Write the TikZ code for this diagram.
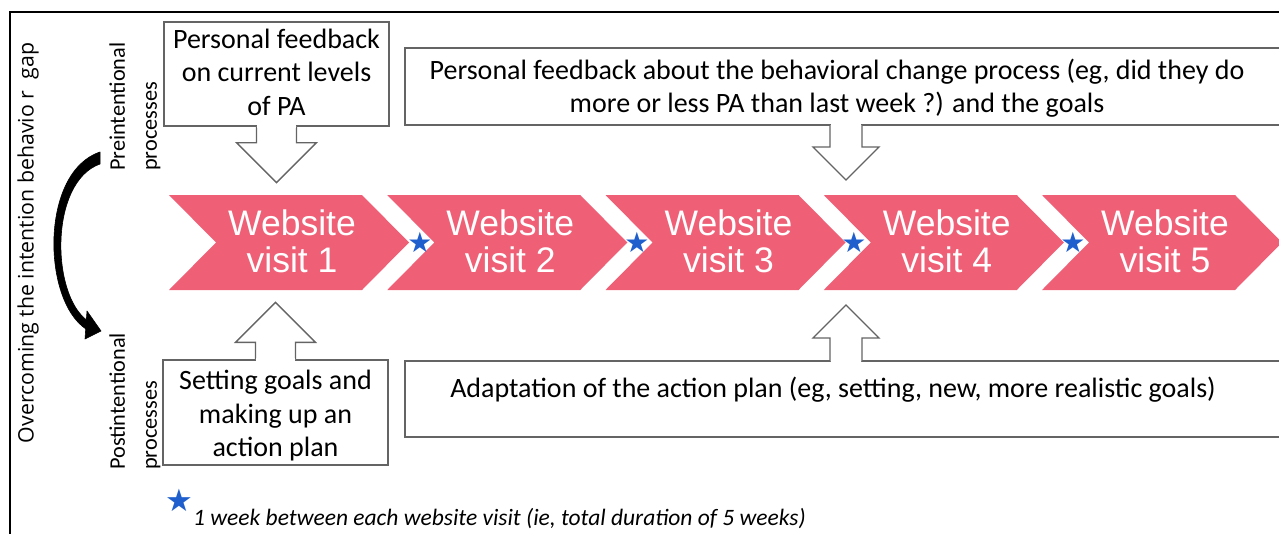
\documentclass[tikz,border=0pt]{standalone}
\usepackage{fontspec}
\setmainfont{Carlito}
\newfontfamily\arialf{Liberation Sans}
\newfontfamily\opens{Open Sans}
\newfontfamily\djv{DejaVu Sans}
\usetikzlibrary{arrows.meta,calc}
\definecolor{chev}{RGB}{239,95,118}
\definecolor{starblue}{RGB}{30,95,205}
\definecolor{boxgray}{RGB}{100,100,100}
\begin{document}
\begin{tikzpicture}[x=1pt,y=-1pt,
  box/.style={draw=boxgray,line width=1.3pt,fill=white,inner sep=0pt},
  blockarrow/.style={draw=boxgray,line width=1.3pt,fill=white,line join=miter},
  chevshape/.style={fill=chev,draw=none},
  chevtext/.style={font=\arialf\fontsize{35.5}{37}\selectfont,text=white,align=center,inner sep=0pt},
  boxtext/.style={font=\fontsize{28}{33.5}\selectfont,align=center,inner sep=0pt},
  sidelabel/.style={font=\fontsize{22.3}{32}\selectfont,rotate=90,anchor=west,align=left,inner sep=0pt},
  starnode/.style={font=\djv\fontsize{28}{28}\selectfont,text=starblue,inner sep=0pt},
  bendarrow/.style={fill=black,draw=black,line width=0.6pt,line join=round}]
\useasboundingbox (0,0) rectangle (1279,533);
% frame
\draw[line width=2.5pt] (10,560) -- (10,12) -- (1300,12);
% left title
\node[rotate=90,font=\opens\fontsize{21.3}{26}\selectfont,inner sep=0pt] (ov) at (28,243) {Overcoming the intention behavio r\ \ gap};
% side labels
\node[sidelabel] (pre) at (135,171) {Preintentional\\processes};
\node[sidelabel] (post) at (135,470) {Postintentional\\processes};
% curved tapered arrow (pre -> post)
\coordinate (ca1) at (100,158);
\coordinate (ca2) at (101,331);
\fill[bendarrow] ($(ca1)+(0,-6)$) .. controls (40,172) and (42,300) .. (86,329)
  -- (88,321) .. controls (51,296) and (49,182) .. ($(ca1)+(0,6)$) -- cycle;
\fill[bendarrow] (87,311) -- (ca2) -- (85,339) -- cycle;
% top-left box + arrow
\node[box,minimum width=225pt,minimum height=104pt] (fb1box) at (276.5,74) {};
\node[boxtext] (fb1) at (276.5,72) {Personal feedback\\on current levels\\of PA};
\draw[blockarrow] (fb1box.south) ++(-20,0) -- ++(0,16) -- ++(-20,0) -- ++(40,40) -- ++(40,-40) -- ++(-20,0) -- ++(0,-16);
\fill[white] ($(fb1box.south)+(-19.3,-2)$) rectangle ($(fb1box.south)+(19.3,1)$);
% top-right box + arrow
\node[box,minimum width=885pt,minimum height=77pt] (fb2box) at (847.5,86.5) {};
\node[boxtext] (fb2) at (837,88) {Personal feedback about the behavioral change process (eg, did they do\\more or less PA than last week ?) and the goals};
\coordinate (a2) at (846,125);
\draw[blockarrow] (a2) ++(-16,0) -- ++(0,22) -- ++(-17,0) -- ++(33,33) -- ++(33,-33) -- ++(-17,0) -- ++(0,-22);
\fill[white] ($(a2)+(-15.3,-2)$) rectangle ($(a2)+(15.3,1)$);
% chevrons
\foreach \i in {1,...,5}{
  \pgfmathsetmacro\xo{169+218.25*(\i-1)}
  \fill[chevshape] (\xo,195) -- (\xo+193,195) -- (\xo+240,242.5) -- (\xo+193,290) -- (\xo,290) -- (\xo+47,242.5) -- cycle;
  \node[chevtext] (v\i) at (\xo+123,241) {Website\\visit \i};
}
% stars
\node[starnode] (s1) at (420,242) {★};
\node[starnode] (s2) at (637,242) {★};
\node[starnode] (s3) at (854,242) {★};
\node[starnode] (s4) at (1073,242) {★};
% bottom-left box + arrow
\node[box,minimum width=225pt,minimum height=105pt] (ap1box) at (275.5,412.5) {};
\node[boxtext] (ap1) at (275.5,416) {Setting goals and\\making up an\\action plan};
\draw[blockarrow] (ap1box.north) ++(-20,0) -- ++(0,-17) -- ++(-20,0) -- ++(40,-40) -- ++(40,40) -- ++(-20,0) -- ++(0,17);
\fill[white] ($(ap1box.north)+(-19.3,-1)$) rectangle ($(ap1box.north)+(19.3,2)$);
% bottom-right box + arrow
\node[box,minimum width=885pt,minimum height=76pt] (ap2box) at (847.5,399) {};
\node[boxtext] (ap2) at (833,390) {Adaptation of the action plan (eg, setting, new, more realistic goals)};
\coordinate (a4) at (846,361);
\draw[blockarrow] (a4) ++(-16,0) -- ++(0,-23) -- ++(-17,0) -- ++(33,-33) -- ++(33,33) -- ++(-17,0) -- ++(0,23);
\fill[white] ($(a4)+(-15.3,-1)$) rectangle ($(a4)+(15.3,2)$);
% legend
\node[starnode,font=\djv\fontsize{31}{31}\selectfont] (ls) at (179,500) {★};
\node[font=\itshape\fontsize{23.5}{26}\selectfont,anchor=west,inner sep=0pt] (leg) at (193,519) {1 week between each website visit (ie, total duration of 5 weeks)};
\end{tikzpicture}
\end{document}
